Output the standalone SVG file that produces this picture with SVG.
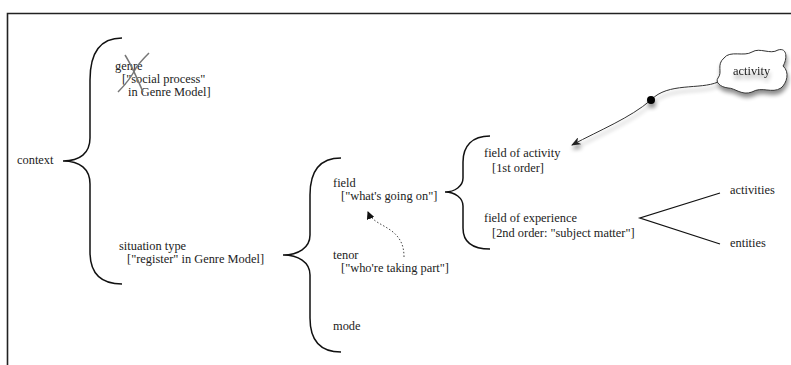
<svg xmlns="http://www.w3.org/2000/svg" width="791" height="365" viewBox="0 0 791 365">
<style>
text{font-family:"Liberation Serif","DejaVu Serif",serif;font-size:12.4px;fill:#222}
.br{fill:none;stroke:#111;stroke-width:1.5}
.ln{fill:none;stroke:#111;stroke-width:1.3}
.x{fill:none;stroke:#777;stroke-width:1.5}
</style>
<defs>
<filter id="sh" x="-20%" y="-20%" width="140%" height="160%">
<feGaussianBlur in="SourceAlpha" stdDeviation="2"/>
<feOffset dx="1" dy="4" result="b"/>
<feComponentTransfer><feFuncA type="linear" slope="0.45"/></feComponentTransfer>
<feMerge><feMergeNode/><feMergeNode in="SourceGraphic"/></feMerge>
</filter>
<marker id="ah" markerWidth="10" markerHeight="8" refX="9" refY="4" orient="auto" markerUnits="userSpaceOnUse">
<path d="M0,0 L10,4 L0,8 L3,4 Z" fill="#222"/>
</marker>
<marker id="ad" markerWidth="8" markerHeight="8" refX="7" refY="4" orient="auto" markerUnits="userSpaceOnUse">
<path d="M0,0 L8,4 L0,8 Z" fill="#111"/>
</marker>
</defs>
<rect width="791" height="365" fill="#fff"/>
<path d="M7.5,365 L7.5,13.5 L791,13.5" fill="none" stroke="#222" stroke-width="1.6"/>

<g id="context"><text x="17" y="164">context</text></g>
<g id="genre">
<text x="115" y="70">genre</text>
<text x="122" y="83">["social process"</text>
<text x="128" y="96">in Genre Model]</text>
<path class="x" d="M118,92 C126,84 132,76 136,68 C140,62 145,57 149,53"/>
<path class="x" d="M125,55 C132,66 137,78 143,92"/>
</g>
<g id="situation-type">
<text x="119" y="250">situation type</text>
<text x="127" y="263">["register" in Genre Model]</text>
</g>
<g id="field">
<text x="333" y="187">field</text>
<text x="341" y="200">["what's going on"]</text>
</g>
<g id="tenor">
<text x="333" y="259">tenor</text>
<text x="341" y="272">["who're taking part"]</text>
</g>
<g id="mode"><text x="333" y="330">mode</text></g>
<g id="field-of-activity">
<text x="484" y="157">field of activity</text>
<text x="492" y="172">[1st order]</text>
</g>
<g id="field-of-experience">
<text x="484" y="222">field of experience</text>
<text x="492" y="237">[2nd order: "subject matter"]</text>
</g>
<g id="activities"><text x="730" y="194">activities</text></g>
<g id="entities"><text x="730" y="247">entities</text></g>
<g id="activity">
<path filter="url(#sh)" fill="#fff" stroke="#333" stroke-width="1" d="M724,58 C730,50 744,57 752,52 C760,47 770,55 778,50 C788,47 787,60 783,66 C790,72 787,83 781,88 C772,94 762,86 752,92 C742,96 735,88 728,88 C720,87 715,82 718,78 C723,72 716,65 724,58 Z"/>
<text x="733" y="75" filter="url(#sh)">activity</text>
</g>

<g id="connectors">
<path class="br" d="M122,38 C100,38 90,52 90,80 L90,138 C90,153 80,161 63,161 C80,161 90,169 90,184 L90,252 C90,272 100,284 122,284"/>
<path class="br" d="M341,158 C320,158 310,170 310,195 L310,235 C310,248 298,255 283,255 C298,255 310,262 310,275 L310,318 C310,340 320,352 341,352"/>
<path class="br" d="M490,136 C472,136 463,146 463,162 L463,178 C463,186 455,192 445,192 C455,192 463,198 463,206 L463,228 C463,242 472,249 490,249"/>
<path class="ln" d="M720,193 L640,218 L720,244"/>
<path d="M404,257 C404,245 400,238 393,232 C383,224 372,222 368,212" fill="none" stroke="#444" stroke-width="1" stroke-dasharray="1.5,2" marker-end="url(#ad)"/>
<g filter="url(#sh)">
<path d="M718,82 C700,90 668,82 651,100 C630,118 600,130 572,145" fill="none" stroke="#333" stroke-width="1" marker-end="url(#ah)"/>
<circle cx="651" cy="100" r="4" fill="#000"/>
</g>
</g>
</svg>
